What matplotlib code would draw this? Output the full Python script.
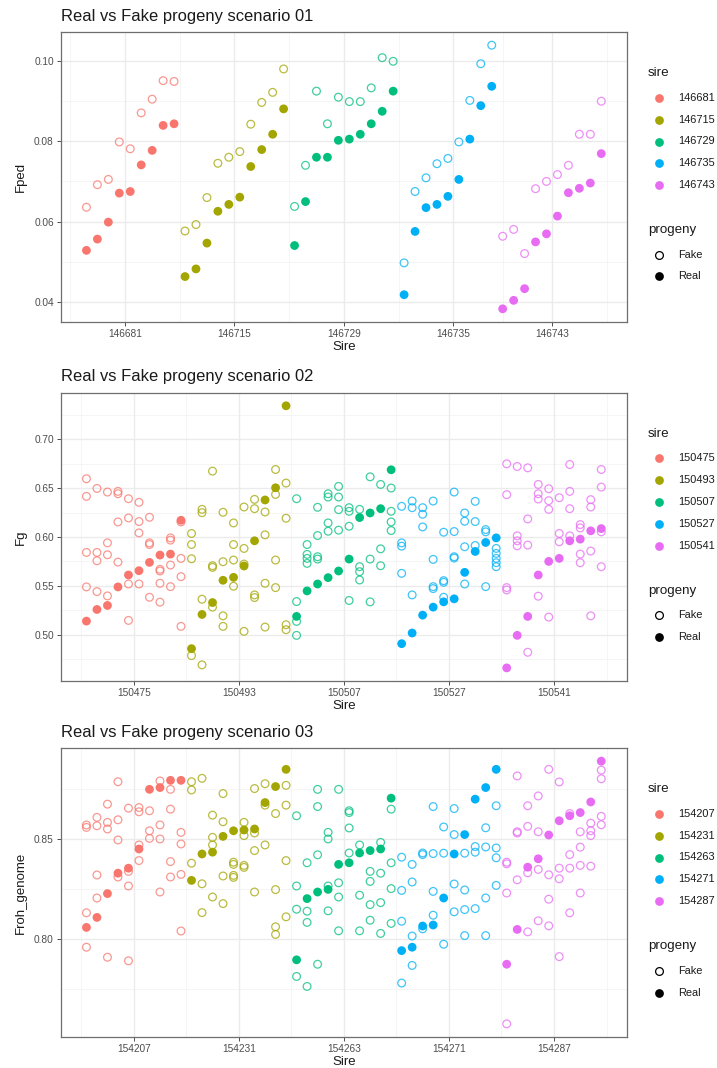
import matplotlib
matplotlib.use("Agg")
import matplotlib.pyplot as plt
from matplotlib.lines import Line2D
import numpy as np

plt.rcParams['font.family'] = ['Liberation Sans', 'DejaVu Sans']

# ggplot default hue palette for five groups
HUES = ["#F8766D", "#A3A500", "#00BF7D", "#00B0F6", "#E76BF3"]

# ---------------- scenario 01 : Fped (one fake per real progeny) ----------------
s1_sires = ["146681", "146715", "146729", "146735", "146743"]
s1_real_146681 = [0.0529, 0.0557, 0.0599, 0.0671, 0.0675, 0.0741, 0.0777, 0.0839, 0.0843]
s1_fake_146681 = [0.0636, 0.0692, 0.0705, 0.0798, 0.0781, 0.0870, 0.0904, 0.0950, 0.0948]
s1_real_146715 = [0.0464, 0.0483, 0.0547, 0.0626, 0.0643, 0.0661, 0.0737, 0.0779, 0.0817, 0.0880]
s1_fake_146715 = [0.0577, 0.0593, 0.0660, 0.0745, 0.0760, 0.0774, 0.0842, 0.0896, 0.0921, 0.0979]
s1_real_146729 = [0.0541, 0.0650, 0.0760, 0.0760, 0.0802, 0.0805, 0.0817, 0.0843, 0.0874, 0.0924]
s1_fake_146729 = [0.0638, 0.0740, 0.0924, 0.0843, 0.0909, 0.0898, 0.0898, 0.0932, 0.1007, 0.0998]
s1_real_146735 = [0.0419, 0.0576, 0.0635, 0.0643, 0.0663, 0.0705, 0.0805, 0.0888, 0.0936]
s1_fake_146735 = [0.0498, 0.0675, 0.0709, 0.0744, 0.0757, 0.0798, 0.0901, 0.0992, 0.1038]
s1_real_146743 = [0.0384, 0.0405, 0.0434, 0.0550, 0.0570, 0.0614, 0.0672, 0.0683, 0.0696, 0.0769]
s1_fake_146743 = [0.0564, 0.0581, 0.0521, 0.0682, 0.0700, 0.0717, 0.0740, 0.0817, 0.0817, 0.0899]
s1_xbreaks = [4.5, 14.5, 24.5, 34.5, 43.5]
s1_yticks = [0.04, 0.06, 0.08, 0.10]
s1_yticklabels = ["0.04", "0.06", "0.08", "0.10"]

# ---------------- scenario 02 : Fg (several fakes per real progeny) ----------------
s2_sires = ["150475", "150493", "150507", "150527", "150541"]
s2_real_150475 = [0.5139, 0.5258, 0.5299, 0.5489, 0.5611, 0.5655, 0.5740, 0.5815, 0.5825, 0.6171]
s2_fake_150475 = [[0.6596, 0.6416, 0.5842, 0.5489], [0.6497, 0.5842, 0.5757, 0.5441],
                  [0.6460, 0.5940, 0.5818, 0.5397], [0.6467, 0.6443, 0.6154, 0.5743],
                  [0.6392, 0.6195, 0.5519, 0.5146], [0.6355, 0.6158, 0.6042, 0.5519],
                  [0.6202, 0.5940, 0.5923, 0.5383], [0.5669, 0.5652, 0.5526, 0.5333],
                  [0.5991, 0.5968, 0.5713, 0.5492], [0.6154, 0.5781, 0.5594, 0.5085]]
s2_real_150493 = [0.4857, 0.5207, 0.5329, 0.5557, 0.5587, 0.5703, 0.5961, 0.6379, 0.6504, 0.7343]
s2_fake_150493 = [[0.6036, 0.5923, 0.5777, 0.4786], [0.6283, 0.6249, 0.5363, 0.4691],
                  [0.6674, 0.5706, 0.5689, 0.5282], [0.6253, 0.5747, 0.5193, 0.5085],
                  [0.6144, 0.5923, 0.5764, 0.5496], [0.6307, 0.5883, 0.5723, 0.5034],
                  [0.6385, 0.6290, 0.5407, 0.5380], [0.6256, 0.6022, 0.5526, 0.5078],
                  [0.6691, 0.6436, 0.5764, 0.5482], [0.6552, 0.6192, 0.5102, 0.5051]]
s2_real_150507 = [0.5187, 0.5448, 0.5519, 0.5584, 0.5652, 0.5774, 0.6199, 0.6246, 0.6290, 0.6688]
s2_fake_150507 = [[0.6392, 0.5339, 0.5136, 0.4993], [0.5923, 0.5822, 0.5781, 0.5730],
                  [0.6304, 0.6015, 0.5798, 0.5774], [0.6443, 0.6409, 0.6144, 0.6059],
                  [0.6518, 0.6409, 0.6280, 0.6070], [0.6300, 0.6263, 0.6110, 0.5350],
                  [0.6283, 0.5696, 0.5645, 0.5560], [0.6616, 0.5774, 0.5336],
                  [0.6538, 0.5879, 0.5706], [0.6501, 0.6263, 0.6154, 0.6066]]
s2_real_150527 = [0.4908, 0.5017, 0.5200, 0.5282, 0.5336, 0.5367, 0.5638, 0.5852, 0.5944, 0.5991]
s2_fake_150527 = [[0.6314, 0.5940, 0.5906, 0.5628], [0.6368, 0.6300, 0.5407],
                  [0.6300, 0.6233, 0.6103], [0.6368, 0.5771, 0.5492, 0.5472],
                  [0.6049, 0.5553, 0.5536, 0.5383], [0.6460, 0.6056, 0.5798, 0.5784],
                  [0.6246, 0.6161, 0.5900, 0.5519], [0.6365, 0.6158, 0.5913],
                  [0.6076, 0.6053, 0.5492], [0.5883, 0.5832, 0.5781, 0.5737, 0.5696]]
s2_real_150541 = [0.4660, 0.4993, 0.5187, 0.5611, 0.5750, 0.5781, 0.5961, 0.5978, 0.6063, 0.6086]
s2_fake_150541 = [[0.6749, 0.6433, 0.5482, 0.5458], [0.6722, 0.6012, 0.5961, 0.5910],
                  [0.6708, 0.6185, 0.5917, 0.4820], [0.6538, 0.6443, 0.6389, 0.5394],
                  [0.6494, 0.6372, 0.6283, 0.5180], [0.6402, 0.6036, 0.5951],
                  [0.6742, 0.6467, 0.6290, 0.6012], [0.6127, 0.6093, 0.5825, 0.5737],
                  [0.6382, 0.6307, 0.5856, 0.5193], [0.6691, 0.6511, 0.6053, 0.5696]]
s2_xbreaks = [5.5, 15.5, 25.5, 35.5, 45.5]
s2_yticks = [0.50, 0.55, 0.60, 0.65, 0.70]
s2_yticklabels = ["0.50", "0.55", "0.60", "0.65", "0.70"]

# ---------------- scenario 03 : Froh_genome ----------------
s3_sires = ["154207", "154231", "154263", "154271", "154287"]
s3_real_154207 = [0.8058, 0.8108, 0.8227, 0.8329, 0.8354, 0.8450, 0.8748, 0.8757, 0.8793, 0.8793]
s3_fake_154207 = [[0.8570, 0.8558, 0.8131, 0.7959], [0.8608, 0.8566, 0.8320, 0.8205],
                  [0.8674, 0.8583, 0.8550, 0.7909], [0.8786, 0.8596, 0.8495, 0.8310],
                  [0.8654, 0.8338, 0.8265, 0.7891], [0.8657, 0.8636, 0.8470, 0.8392],
                  [0.8641, 0.8541, 0.8503], [0.8790, 0.8570, 0.8500, 0.8235],
                  [0.8748, 0.8649, 0.8387, 0.8310], [0.8533, 0.8475, 0.8323, 0.8040]]
s3_real_154231 = [0.8293, 0.8425, 0.8434, 0.8513, 0.8541, 0.8545, 0.8550, 0.8682, 0.8762, 0.8848]
s3_fake_154231 = [[0.8786, 0.8745, 0.8379], [0.8803, 0.8276, 0.8132],
                  [0.8619, 0.8508, 0.8470, 0.8210], [0.8727, 0.8586, 0.8315, 0.8177],
                  [0.8384, 0.8373, 0.8318, 0.8308], [0.8583, 0.8517, 0.8368, 0.8358],
                  [0.8752, 0.8530, 0.8442, 0.8235], [0.8776, 0.8669, 0.8470],
                  [0.8627, 0.8247, 0.8061, 0.8023], [0.8768, 0.8669, 0.8392, 0.8111]]
s3_real_154263 = [0.7896, 0.8202, 0.8235, 0.8248, 0.8373, 0.8381, 0.8430, 0.8442, 0.8450, 0.8704]
s3_fake_154263 = [[0.8616, 0.8265, 0.8149, 0.7813], [0.8381, 0.8139, 0.8083, 0.7763],
                  [0.8748, 0.8662, 0.8421, 0.7874], [0.8533, 0.8500, 0.8265, 0.8141],
                  [0.8748, 0.8281, 0.8210, 0.8041], [0.8641, 0.8632, 0.8555, 0.8430],
                  [0.8470, 0.8219, 0.8041], [0.8338, 0.8288, 0.8172, 0.8094],
                  [0.8483, 0.8329, 0.8182, 0.8028], [0.8649, 0.8381, 0.8252, 0.8078]]
s3_real_154271 = [0.7942, 0.7959, 0.8065, 0.8070, 0.8205, 0.8425, 0.8522, 0.8699, 0.8757, 0.8848]
s3_fake_154271 = [[0.8409, 0.8243, 0.8089, 0.7780], [0.8373, 0.8285, 0.8015, 0.7868],
                  [0.8430, 0.8422, 0.8051], [0.8662, 0.8427, 0.8238, 0.8119],
                  [0.8560, 0.8429, 0.7974], [0.8652, 0.8522, 0.8275, 0.8136],
                  [0.8429, 0.8245, 0.8147, 0.8017], [0.8462, 0.8434, 0.8152],
                  [0.8556, 0.8460, 0.8205, 0.8017], [0.8666, 0.8455, 0.8406, 0.8268]]
s3_real_154287 = [0.7874, 0.8048, 0.8359, 0.8401, 0.8520, 0.8591, 0.8616, 0.8632, 0.8685, 0.8889]
s3_fake_154287 = [[0.8384, 0.8376, 0.8230, 0.7576], [0.8815, 0.8536, 0.8530, 0.8296],
                  [0.8666, 0.8563, 0.8331, 0.8036], [0.8715, 0.8536, 0.8348, 0.8091],
                  [0.8848, 0.8321, 0.8199, 0.8066], [0.8785, 0.8354, 0.8301, 0.7912],
                  [0.8627, 0.8422, 0.8354, 0.8131], [0.8536, 0.8459, 0.8368, 0.8230],
                  [0.8579, 0.8541, 0.8517, 0.8364], [0.8844, 0.8801, 0.8613, 0.8571]]
s3_xbreaks = [5.5, 15.5, 25.5, 35.5, 45.5]
s3_yticks = [0.80, 0.85]
s3_yticklabels = ["0.80", "0.85"]

W, H = 717, 1068
fig = plt.figure(figsize=(W / 100, H / 100), dpi=100)

LEFT, RIGHT = 60.7, 627.0
TICK_COL = "#4D4D4D"
GRID_MAJ = "#EBEBEB"
GRID_MIN = "#F4F4F4"
S_FAKE, S_REAL = 31, 40


def fx(px):
    return px / W


def fy(py):
    return 1 - py / H


def minor_between(breaks, lo, hi):
    b = list(breaks)
    d = b[1] - b[0]
    if lo < b[0]:
        b = [b[0] - d] + b
    if hi > b[-1]:
        b = b + [b[-1] + d]
    mids = [(a + c) / 2 for a, c in zip(b[:-1], b[1:])]
    return [m for m in mids if lo <= m <= hi]


def panel(top, bottom, title, ylabel, sires, reals, fakes, xbreaks, yticks, yticklabels):
    ax = fig.add_axes([fx(LEFT), fy(bottom), fx(RIGHT - LEFT), (bottom - top) / H])
    col = 0
    ys = []
    for k, sire in enumerate(sires):
        r = reals[k]
        xs = np.arange(col + 1, col + 1 + len(r))
        col += len(r)
        px, py = [], []
        for x, vals in zip(xs, fakes[k]):
            vals = vals if isinstance(vals, list) else [vals]
            px += [x] * len(vals)
            py += vals
        ax.scatter(px, py, s=S_FAKE, facecolors="none", edgecolors=HUES[k],
                   linewidths=0.9, alpha=0.75, zorder=3)
        ax.scatter(xs, r, s=S_REAL, color=HUES[k], edgecolors="none", zorder=4)
        ys += list(r) + py
    n = col
    xlo, xhi = 1 - 0.05 * (n - 1), n + 0.05 * (n - 1)
    ylo, yhi = min(ys), max(ys)
    pad = 0.05 * (yhi - ylo)
    ylo, yhi = ylo - pad, yhi + pad
    ax.set_xlim(xlo, xhi)
    ax.set_ylim(ylo, yhi)

    for v in minor_between(xbreaks, xlo, xhi):
        ax.axvline(v, color=GRID_MIN, lw=0.6, zorder=0)
    for v in minor_between(yticks, ylo, yhi):
        ax.axhline(v, color=GRID_MIN, lw=0.6, zorder=0)
    for v in xbreaks:
        ax.axvline(v, color=GRID_MAJ, lw=1.0, zorder=1)
    for v in yticks:
        ax.axhline(v, color=GRID_MAJ, lw=1.0, zorder=1)

    ax.set_xticks(xbreaks)
    ax.set_xticklabels(sires)
    ax.set_yticks(yticks)
    ax.set_yticklabels(yticklabels)
    ax.tick_params(axis="both", length=2.75, width=0.6, color="#333333",
                   labelsize=7.3, labelcolor=TICK_COL, pad=2.2)
    for sp in ax.spines.values():
        sp.set_color("#6e6e6e")
        sp.set_linewidth(0.9)

    fig.text(fx(LEFT), fy(top - 16), title, fontsize=11.9, color="#1a1a1a",
             ha="left", va="center")
    fig.text(fx((LEFT + RIGHT) / 2), fy(bottom + 25), "Sire", fontsize=9.5,
             color="#1a1a1a", ha="center", va="center")
    fig.text(fx(20.7), fy((top + bottom) / 2), ylabel, fontsize=9.5,
             color="#1a1a1a", ha="center", va="center", rotation=90)

    # legend: sire colours and progeny shapes
    lx, kx, tx = 648, 659.3, 678
    fig.text(fx(lx), fy(top + 41), "sire", fontsize=9.6, color="#1a1a1a",
             ha="left", va="center")
    for k, sire in enumerate(sires):
        yk = top + 65.7 + 21.9 * k
        fig.add_artist(Line2D([fx(kx)], [fy(yk)], marker="o", markersize=6.3,
                              color=HUES[k], markeredgewidth=0, linestyle="none",
                              transform=fig.transFigure))
        fig.text(fx(tx), fy(yk), sire, fontsize=7.9, color="#1a1a1a",
                 ha="left", va="center")
    fig.text(fx(lx), fy(top + 198), "progeny", fontsize=9.6, color="#1a1a1a",
             ha="left", va="center")
    for j, (lab, filled) in enumerate([("Fake", False), ("Real", True)]):
        yk = top + 222.5 + 22 * j
        fig.add_artist(Line2D([fx(kx)], [fy(yk)], marker="o",
                              markersize=5.6 if not filled else 6.3,
                              markerfacecolor="black" if filled else "none",
                              markeredgecolor="black",
                              markeredgewidth=0 if filled else 0.9,
                              linestyle="none", transform=fig.transFigure))
        fig.text(fx(tx), fy(yk), lab, fontsize=7.9, color="#1a1a1a",
                 ha="left", va="center")
    return ax


panel(32, 322, "Real vs Fake progeny scenario 01", "Fped", s1_sires,
      [s1_real_146681, s1_real_146715, s1_real_146729, s1_real_146735, s1_real_146743],
      [s1_fake_146681, s1_fake_146715, s1_fake_146729, s1_fake_146735, s1_fake_146743],
      s1_xbreaks, s1_yticks, s1_yticklabels)
panel(392.7, 681, "Real vs Fake progeny scenario 02", "Fg", s2_sires,
      [s2_real_150475, s2_real_150493, s2_real_150507, s2_real_150527, s2_real_150541],
      [s2_fake_150475, s2_fake_150493, s2_fake_150507, s2_fake_150527, s2_fake_150541],
      s2_xbreaks, s2_yticks, s2_yticklabels)
panel(748, 1037, "Real vs Fake progeny scenario 03", "Froh_genome", s3_sires,
      [s3_real_154207, s3_real_154231, s3_real_154263, s3_real_154271, s3_real_154287],
      [s3_fake_154207, s3_fake_154231, s3_fake_154263, s3_fake_154271, s3_fake_154287],
      s3_xbreaks, s3_yticks, s3_yticklabels)

fig.savefig("out.png", dpi=100, facecolor="white")
